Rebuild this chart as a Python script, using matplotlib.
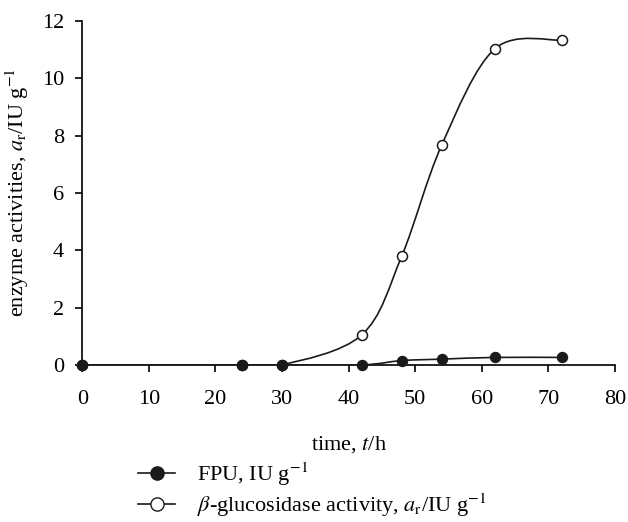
import matplotlib
matplotlib.use('Agg')
import matplotlib.pyplot as plt
from matplotlib.path import Path
from matplotlib.patches import PathPatch
from matplotlib.lines import Line2D
import numpy as np

time_h = [0, 24, 30, 42, 48, 54, 62, 72]
fpu = [0.0, 0.0, 0.0, 0.0, 0.15, 0.20, 0.26, 0.26]
glucosidase = [0.0, 0.0, 0.0, 1.05, 3.80, 7.67, 11.03, 11.33]

plt.rcParams['font.family'] = ['Liberation Serif', 'DejaVu Serif']
plt.rcParams['mathtext.fontset'] = 'stix'
plt.rcParams['font.size'] = 16

INK = '#1a1a1a'


def smooth_path(x, y):
    # Catmull-Rom style bezier (like a spreadsheet "smoothed line")
    p = np.column_stack([x, y]).astype(float)
    n = len(p)
    verts = [p[0]]
    codes = [Path.MOVETO]
    for i in range(n - 1):
        p0 = p[i - 1] if i > 0 else p[i]
        p1 = p[i]
        p2 = p[i + 1]
        p3 = p[i + 2] if i + 2 < n else p[i + 1]
        c1 = p1 + (p2 - p0) / 6.0
        c2 = p2 - (p3 - p1) / 6.0
        verts += [c1, c2, p2]
        codes += [Path.CURVE4] * 3
    return Path(verts, codes)


fig = plt.figure(figsize=(6.28, 5.22), dpi=100)
ax = fig.add_axes([0.131, 0.301, 0.848, 0.659])

ax.add_patch(PathPatch(smooth_path(time_h, glucosidase), fill=False,
                       edgecolor=INK, lw=1.2, zorder=2))
ax.add_patch(PathPatch(smooth_path(time_h, fpu), fill=False,
                       edgecolor=INK, lw=1.2, zorder=3))
ax.plot(time_h, glucosidase, ls='none', marker='o', ms=7.2, mfc='white',
        mec=INK, mew=1.1, zorder=4, clip_on=False)
ax.plot(time_h, fpu, ls='none', marker='o', ms=7.2, mfc=INK,
        mec=INK, zorder=5, clip_on=False)

ax.set_xlim(0, 80)
ax.set_ylim(0, 12)
ax.set_xticks(range(0, 81, 10))
ax.set_yticks(range(0, 13, 2))
for s in ['top', 'right']:
    ax.spines[s].set_visible(False)
for s in ['left', 'bottom']:
    ax.spines[s].set_linewidth(1.2)
ax.tick_params(direction='out', length=5, width=1.2)
ax.tick_params(axis='x', pad=13)
ax.tick_params(axis='y', pad=8)

ax.set_xlabel(r'time, $t$/h')
ax.xaxis.set_label_coords(0.5, -0.2)
ax.set_ylabel(r'enzyme activities, $a_\mathrm{r}$/IU g$^{-1}$', labelpad=8)

handles = [
    Line2D([], [], color=INK, lw=1.2, marker='o', ms=9.5, mfc=INK),
    Line2D([], [], color=INK, lw=1.2, marker='o', ms=9.5, mfc='white'),
]
labels = [r'FPU, IU g$^{-1}$',
          r'$\beta$-glucosidase activity, $a_\mathrm{r}$/IU g$^{-1}$']
fig.legend(handles, labels, loc='upper left', bbox_to_anchor=(0.22, 0.118),
           frameon=False, handlelength=1.67, handletextpad=1.0,
           labelspacing=0.15, borderaxespad=0, borderpad=0)

fig.savefig('out.png', dpi=100)
